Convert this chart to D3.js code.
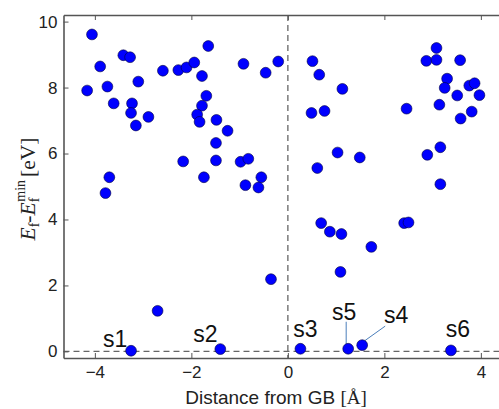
<!DOCTYPE html>
<html>
<head>
<meta charset="utf-8">
<script src="https://cdn.jsdelivr.net/npm/d3@7"></script>
<style>
  body { margin: 0; background: #fff; }
  svg { display: block; }
</style>
</head>
<body>
<svg id="chart"></svg>
<script>
// formation energies of the sites vs distance from the grain boundary
const distance = [
  -4.06, -3.41, -3.27, -3.89, -2.59, -3.10, -4.16, -3.74, -3.61, -3.23,
  -3.25, -2.89, -3.15, -3.70, -3.78, -2.70,
  -2.27, -2.10, -1.94, -1.65, -1.78, -0.92, -0.46, -0.20, -1.69, -1.78,
  -1.88, -1.83, -1.48, -1.25, -1.49, -2.17, -1.49, -0.98, -0.82, -1.74,
  -0.55, -0.88, -0.61, -0.35,
  0.51, 0.65, 1.13, 0.49, 0.76, 1.03, 1.49, 0.61, 0.69, 0.87,
  1.11, 1.73, 1.09, 2.41, 2.50,
  3.08, 2.87, 3.08, 3.57, 3.30, 3.25, 3.76, 3.87, 3.97, 3.51,
  2.46, 3.14, 3.81, 3.58, 3.16, 2.89, 3.16
];
const energy = [
  9.61, 8.98, 8.92, 8.64, 8.51, 8.18, 7.91, 8.03, 7.52, 7.52,
  7.23, 7.11, 6.85, 5.28, 4.80, 1.23,
  8.53, 8.61, 8.76, 9.26, 8.35, 8.72, 8.45, 8.79, 7.75, 7.45,
  7.18, 6.96, 7.02, 6.69, 6.32, 5.76, 5.79, 5.75, 5.84, 5.28,
  5.28, 5.04, 4.97, 2.19,
  8.80, 8.39, 7.96, 7.23, 7.29, 6.03, 5.88, 5.56, 3.89, 3.63,
  3.56, 3.17, 2.41, 3.89, 3.91,
  9.20, 8.81, 8.84, 8.83, 8.27, 7.99, 8.06, 8.13, 7.77, 7.76,
  7.36, 7.48, 7.27, 7.06, 6.19, 5.96, 5.07
];

// labelled low-energy sites
const siteNames = ["s1", "s2", "s3", "s4", "s5", "s6"];
const siteDistance = [-3.25, -1.40, 0.26, 1.54, 1.25, 3.38];
const siteEnergy = [0.02, 0.07, 0.08, 0.19, 0.08, 0.03];

const xTicks = [-4, -2, 0, 2, 4];
const yTicks = [0, 2, 4, 6, 8, 10];

const width = 499, height = 409;
const margin = {top: 15, right: -6, bottom: 51, left: 63.5};

const svg = d3.select('#chart')
  .attr('width', width)
  .attr('height', height);

const x = d3.scaleLinear()
  .domain([-4.65, 4.5])
  .range([margin.left, width - margin.right]);

const y = d3.scaleLinear()
  .domain([-0.2, 10.2])
  .range([height - margin.bottom, margin.top]);

const axisColor = '#555';
const tickFont = '"Liberation Sans", Arial, sans-serif';

// dashed reference lines
svg.append('line')
  .attr('x1', x(0)).attr('x2', x(0))
  .attr('y1', y(10.2)).attr('y2', y(-0.2))
  .attr('stroke', '#666').attr('stroke-width', 1.3)
  .attr('stroke-dasharray', '6,4');

svg.append('line')
  .attr('x1', x(-4.65)).attr('x2', x(4.5))
  .attr('y1', y(0)).attr('y2', y(0))
  .attr('stroke', '#666').attr('stroke-width', 1.3)
  .attr('stroke-dasharray', '6,4');

// axes, ticks pointing inwards like matplotlib
const styleAxis = g => {
  g.select('.domain').attr('stroke', axisColor).attr('stroke-width', 1.6);
  g.selectAll('.tick line').attr('stroke', axisColor).attr('stroke-width', 1);
  g.selectAll('.tick text')
    .attr('fill', '#222')
    .style('font-family', tickFont)
    .style('font-size', '17px');
};

svg.append('g')
  .attr('transform', `translate(0, ${y(-0.2)})`)
  .call(d3.axisBottom(x).tickValues(xTicks).tickSizeInner(-5).tickSizeOuter(0).tickPadding(8))
  .call(styleAxis);

svg.append('g')
  .attr('transform', `translate(0, ${y(10.2)})`)
  .call(d3.axisTop(x).tickValues(xTicks).tickSizeInner(-5).tickSizeOuter(0).tickFormat(''))
  .call(styleAxis);

svg.append('g')
  .attr('transform', `translate(${x(-4.65)}, 0)`)
  .call(d3.axisLeft(y).tickValues(yTicks).tickSizeInner(-5).tickSizeOuter(0).tickPadding(6))
  .call(styleAxis);

svg.append('g')
  .attr('transform', `translate(${x(4.5)}, 0)`)
  .call(d3.axisRight(y).tickValues(yTicks).tickSizeInner(-5).tickSizeOuter(0).tickFormat(''))
  .call(styleAxis);

// leader lines for s4 and s5
const leaderColor = '#4a7ebb';
const iS5 = siteNames.indexOf('s5'), iS4 = siteNames.indexOf('s4');
svg.append('line')
  .attr('x1', x(siteDistance[iS5]) - 2).attr('y1', y(siteEnergy[iS5]) - 27)
  .attr('x2', x(siteDistance[iS5]) - 2).attr('y2', y(siteEnergy[iS5]) - 3)
  .attr('stroke', leaderColor).attr('stroke-width', 1);
svg.append('line')
  .attr('x1', x(siteDistance[iS4]) + 23).attr('y1', y(siteEnergy[iS4]) - 19)
  .attr('x2', x(siteDistance[iS4]) + 2).attr('y2', y(siteEnergy[iS4]) - 4)
  .attr('stroke', leaderColor).attr('stroke-width', 1);

// points
const points = distance.map((d, i) => ({x: d, y: energy[i]}))
  .concat(siteDistance.map((d, i) => ({x: d, y: siteEnergy[i]})));

svg.append('g')
  .selectAll('circle')
  .data(points)
  .join('circle')
  .attr('cx', d => x(d.x))
  .attr('cy', d => y(d.y))
  .attr('r', 5.4)
  .attr('fill', '#0000ff')
  .attr('stroke', '#000040')
  .attr('stroke-width', 0.6);

// site labels
const labelOffset = {
  s1: [-16, -4], s2: [-15, -7], s3: [5, -12],
  s4: [34, -22], s5: [-4, -29], s6: [7, -13]
};
svg.append('g')
  .selectAll('text')
  .data(siteNames)
  .join('text')
  .attr('x', (d, i) => x(siteDistance[i]) + labelOffset[d][0])
  .attr('y', (d, i) => y(siteEnergy[i]) + labelOffset[d][1])
  .attr('text-anchor', 'middle')
  .attr('fill', '#111')
  .style('font-family', tickFont)
  .style('font-size', '23px')
  .text(d => d);

// x label
const xLabel = svg.append('text')
  .attr('x', 276)
  .attr('y', 404)
  .attr('text-anchor', 'middle')
  .attr('fill', '#222')
  .style('font-family', tickFont)
  .style('font-size', '19px');
xLabel.append('tspan').text('Distance from GB ');
xLabel.append('tspan').style('font-family', '"Liberation Serif", serif').text('[Å]');

// y label, mathtext style
const serif = '"Liberation Serif", "DejaVu Serif", serif';
const yLabel = svg.append('text')
  .attr('transform', 'translate(35, 189) rotate(-90)')
  .attr('text-anchor', 'middle')
  .attr('fill', '#222')
  .style('font-family', serif)
  .style('font-size', '21.5px');
yLabel.append('tspan').style('font-style', 'italic').text('E');
yLabel.append('tspan').attr('dy', 4).style('font-size', '14px').text('f');
yLabel.append('tspan').attr('dy', -4).text('-');
yLabel.append('tspan').style('font-style', 'italic').text('E');
yLabel.append('tspan').attr('dy', 4).style('font-size', '14px').text('f');
yLabel.append('tspan').attr('dx', -4).attr('dy', -14).style('font-size', '14px').text('min');
yLabel.append('tspan').attr('dy', 10).attr('dx', 3).text('[eV]');
</script>
</body>
</html>
